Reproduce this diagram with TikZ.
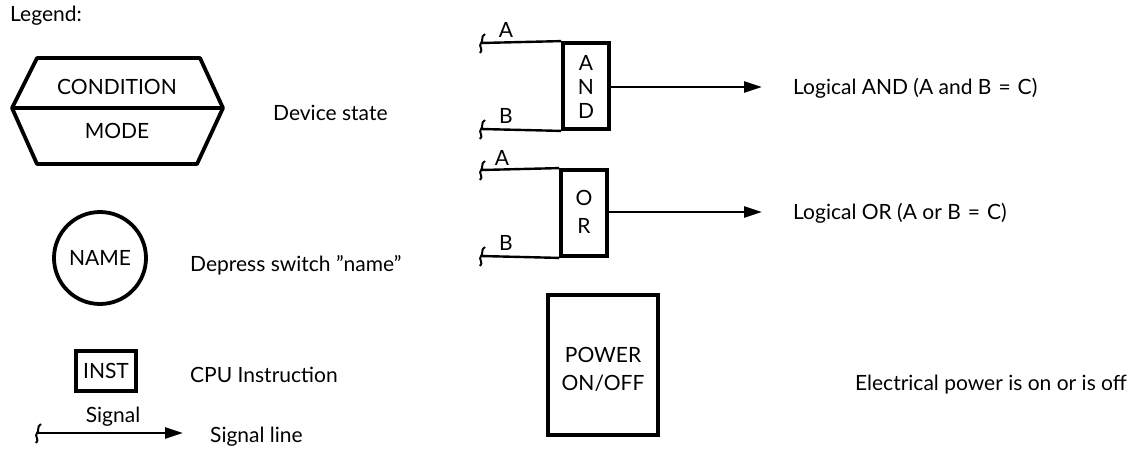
\documentclass[tikz,border=0pt]{standalone}
\usepackage{fontspec}
\setmainfont{Lato}
\usetikzlibrary{arrows.meta}
\begin{document}
\begin{tikzpicture}[x=1pt,y=-1pt,
  txt/.style={font=\fontsize{21}{24}\selectfont, inner sep=0pt},
  lbl/.style={txt, anchor=west},
  heavy/.style={line width=3.8pt},
  wire/.style={line width=2.4pt},
  sig/.style={line width=2.6pt,-{Triangle[length=18pt,width=11pt]}},
  squig/.style={line width=2pt}]
\useasboundingbox (0,0) rectangle (1137,451);
\newcommand{\sq}[1]{\draw[squig] ([shift={(4,-9)}]#1) .. controls ([shift={(-1,-6)}]#1) and ([shift={(3,-2)}]#1) .. (#1) .. controls ([shift={(-3,3)}]#1) and ([shift={(3,7)}]#1) .. ([shift={(-1,10)}]#1);}
% Legend
\node[lbl] (legend) at (10,16) {Legend:};
% hexagon
\draw[heavy,line join=round] (37,58) -- (200,58) -- (223,108) -- (197,164) -- (37,164) -- (12,108) -- cycle;
\draw[heavy] (12,108) -- (223,108);
\node[txt] (cond) at (117,87) {CONDITION};
\node[txt] (mode) at (117,131) {MODE};
\node[lbl] (devstate) at (273,113) {Device state};
% circle
\node[txt,draw,heavy,circle,minimum size=92pt] (name) at (100,258) {NAME};
\node[lbl] (depress) at (190,265) {Depress switch \char34name\char34};
% INST
\node[txt,draw,heavy,minimum width=60pt,minimum height=40pt] (inst) at (106,371) {INST};
\node[lbl] (cpu) at (190,375) {CPU Instruction};
% signal
\coordinate (s0) at (37,433);
\coordinate (s1) at (183,433);
\draw[sig] (s0) -- (s1);
\sq{s0}
\node[txt] (signal) at (113,417) {Signal};
\node[lbl] (sigline) at (210,437) {Signal line};
% AND gate
\node[draw,heavy,minimum width=46pt,minimum height=86pt,inner sep=0pt] (and) at (586,86) {};
\node[txt] at (586,63) {A};
\node[txt] at (586,87) {N};
\node[txt] at (586,111) {D};
\coordinate (a1) at (481,43);
\coordinate (b1) at (481,129);
\draw[wire] (a1) -- (and.north west);
\draw[wire] (b1) -- (and.south west);
\sq{a1}\sq{b1}
\node[txt] (la1) at (506,30) {A};
\node[txt] (lb1) at (506,116) {B};
\coordinate (c1) at (762,87);
\draw[sig] (and.east |- c1) -- (c1);
\node[lbl] (andtxt) at (793,88) {Logical AND (A and B\,\,=\,\,C)};
% OR gate
\node[draw,heavy,minimum width=46pt,minimum height=86pt,inner sep=0pt] (or) at (584,213) {};
\node[txt] at (584,198) {O};
\node[txt] at (584,226) {R};
\coordinate (a2) at (481,170);
\coordinate (b2) at (481,256);
\draw[wire] (a2) -- (or.north west);
\draw[wire] (b2) -- (or.south west);
\sq{a2}\sq{b2}
\node[txt] (la2) at (502,158) {A};
\node[txt] (lb2) at (506,243) {B};
\coordinate (c2) at (762,212);
\draw[sig] (or.east |- c2) -- (c2);
\node[lbl] (ortxt) at (793,213) {Logical OR (A or B\,\,=\,\,C)};
% Power
\node[draw,heavy,minimum width=110pt,minimum height=140pt,inner sep=0pt] (power) at (603,365) {};
\node[txt] at (603,355) {POWER};
\node[txt] at (603,383) {ON/OFF};
\node[txt,anchor=east] (pwrtxt) at (1127,385) {Electrical power is on or is off};
\end{tikzpicture}
\end{document}
